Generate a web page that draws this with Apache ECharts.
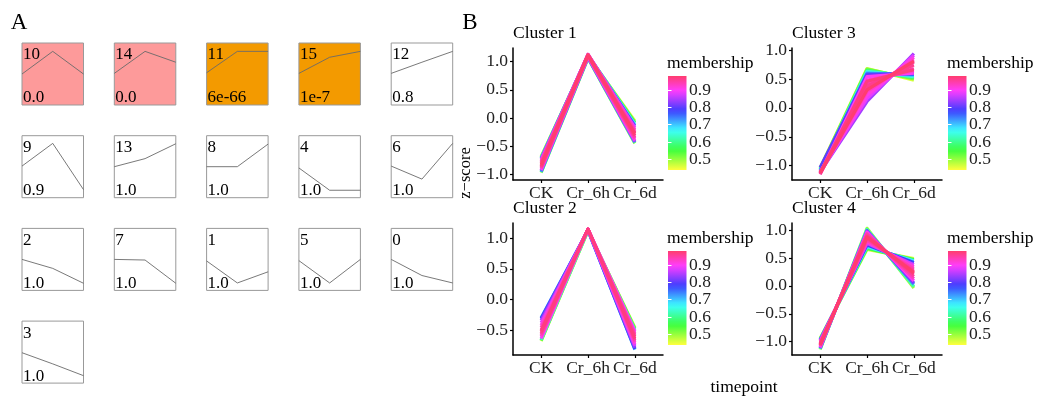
<!DOCTYPE html>
<html><head><meta charset="utf-8">
<script src="https://cdn.jsdelivr.net/npm/echarts@6/dist/echarts.min.js"></script>
<style>html,body{margin:0;padding:0;background:#fff}#c{width:1037px;height:396px}</style>
</head><body><div id="c"></div>
<script>
// ---------------- DATA ----------------
const timepoints = ['CK', 'Cr_6h', 'Cr_6d'];

// Panel A: small cluster profile tiles (reading order), values as fraction of tile height
const tileClusterIds = [10, 14, 11, 15, 12, 9, 13, 8, 4, 6, 2, 7, 1, 5, 0, 3];
const tilePValues = ['0.0', '0.0', '6e-66', '1e-7', '0.8', '0.9', '1.0', '1.0', '1.0', '1.0', '1.0', '1.0', '1.0', '1.0', '1.0', '1.0'];
const tileProfiles = [
  [0.50, 0.865, 0.50],
  [0.51, 0.865, 0.69],
  [0.52, 0.865, 0.865],
  [0.51, 0.77, 0.865],
  [0.51, 0.69, 0.865],
  [0.51, 0.876, 0.13],
  [0.50, 0.63, 0.87],
  [0.50, 0.50, 0.865],
  [0.48, 0.12, 0.12],
  [0.51, 0.30, 0.876],
  [0.50, 0.355, 0.115],
  [0.50, 0.49, 0.115],
  [0.475, 0.12, 0.30],
  [0.48, 0.12, 0.50],
  [0.50, 0.24, 0.12],
  [0.49, 0.31, 0.12]
];

// Panel B: gene lines per cluster: [membership, CK, Cr_6h, Cr_6d] (z-score)
const cluster1Lines = [
  [0.46, -0.68, 1.10, -0.05], [0.50, -0.97, 1.06, -0.45], [0.56, -0.70, 1.11, -0.08],
  [0.62, -0.96, 1.07, -0.44], [0.68, -0.71, 1.12, -0.11], [0.74, -0.95, 1.07, -0.43],
  [0.80, -0.72, 1.12, -0.14], [0.84, -0.93, 1.08, -0.42], [0.88, -0.74, 1.13, -0.17],
  [0.90, -0.92, 1.09, -0.40], [0.92, -0.76, 1.13, -0.20], [0.93, -0.90, 1.10, -0.37],
  [0.94, -0.78, 1.13, -0.23], [0.95, -0.88, 1.10, -0.34], [0.96, -0.80, 1.12, -0.26],
  [0.97, -0.86, 1.11, -0.31], [0.98, -0.83, 1.12, -0.28]
];
const cluster2Lines = [
  [0.47, -0.68, 1.12, -0.46], [0.55, -0.67, 1.13, -0.48], [0.63, -0.66, 1.13, -0.50],
  [0.72, -0.30, 1.13, -0.82], [0.78, -0.31, 1.13, -0.81], [0.83, -0.34, 1.14, -0.79],
  [0.87, -0.38, 1.14, -0.76], [0.89, -0.64, 1.15, -0.52], [0.91, -0.42, 1.14, -0.73],
  [0.92, -0.61, 1.15, -0.55], [0.93, -0.46, 1.15, -0.70], [0.94, -0.58, 1.15, -0.58],
  [0.95, -0.50, 1.15, -0.67], [0.96, -0.55, 1.15, -0.61], [0.97, -0.52, 1.15, -0.64]
];
const cluster3Lines = [
  [0.46, -1.04, 0.68, 0.48], [0.52, -1.05, 0.67, 0.50], [0.58, -1.06, 0.65, 0.52],
  [0.64, -1.07, 0.63, 0.54], [0.70, -1.08, 0.61, 0.56], [0.76, -1.09, 0.59, 0.58],
  [0.80, -1.03, 0.57, 0.60], [0.84, -1.11, 0.11, 0.94], [0.88, -1.10, 0.16, 0.91],
  [0.90, -1.13, 0.54, 0.60], [0.91, -1.12, 0.22, 0.87], [0.92, -1.14, 0.48, 0.64],
  [0.93, -1.11, 0.28, 0.83], [0.94, -1.15, 0.42, 0.68], [0.95, -1.12, 0.34, 0.79],
  [0.96, -1.14, 0.38, 0.74], [0.97, -1.13, 0.46, 0.66], [0.98, -1.12, 0.31, 0.81]
];
const cluster4Lines = [
  [0.46, -0.94, 0.65, 0.49], [0.50, -1.14, 1.03, -0.04], [0.56, -0.95, 0.67, 0.47],
  [0.62, -1.13, 1.01, -0.01], [0.68, -0.96, 0.70, 0.45], [0.74, -1.12, 0.99, 0.03],
  [0.78, -0.97, 0.73, 0.42], [0.82, -1.11, 0.98, 0.05], [0.87, -0.98, 0.76, 0.38],
  [0.90, -1.10, 0.96, 0.09], [0.92, -1.00, 0.79, 0.34], [0.93, -1.08, 0.94, 0.13],
  [0.94, -1.02, 0.82, 0.30], [0.95, -1.07, 0.92, 0.17], [0.96, -1.04, 0.85, 0.26],
  [0.97, -1.06, 0.89, 0.21], [0.98, -1.05, 0.87, 0.24]
];
const yTicksFull = [-1, -0.5, 0, 0.5, 1];
const yTicksCluster2 = [-0.5, 0, 0.5, 1];
const membershipTicks = [0.5, 0.6, 0.7, 0.8, 0.9];

// ---------------- STYLE / LAYOUT ----------------
const FONT = "'Liberation Serif','Times New Roman','DejaVu Serif',serif";
const FS_A = 17, FS_B = 17.5;
const tileFill = { 10: '#fd9a9a', 14: '#fd9a9a', 11: '#f39a00', 15: '#f39a00' };
const memMin = 0.44, memMax = 0.98;
function memColor(m) {
  const t = Math.max(0, Math.min(1, (m - memMin) / (memMax - memMin)));
  const h = 60 + t * 285;
  return 'hsl(' + h.toFixed(1) + ',100%,62%)';
}
const fmtNum = v => (v < 0 ? '\u2212' : '') + Math.abs(v).toFixed(1);

const grids = [], xAxes = [], yAxes = [], series = [], graphics = [];
const legendAxes = [];

// Panel A
const tileLeft0 = 22, tileTop0 = 43, tileStepX = 92.3, tileStepY = 92.7, tileW = 61.5, tileH = 62;
tileClusterIds.forEach((id, i) => {
  const col = i % 5, row = Math.floor(i / 5);
  const left = tileLeft0 + col * tileStepX, top = tileTop0 + row * tileStepY;
  const gi = grids.length, xi = xAxes.length, yi = yAxes.length;
  grids.push({ left, top, width: tileW, height: tileH, show: true, borderColor: '#999', borderWidth: 1, backgroundColor: tileFill[id] || '#fff' });
  xAxes.push({ gridIndex: gi, type: 'value', min: 0, max: 2, show: false });
  yAxes.push({ gridIndex: gi, type: 'value', min: 0, max: 1, show: false });
  series.push({ type: 'line', xAxisIndex: xi, yAxisIndex: yi, data: tileProfiles[i].map((v, k) => [k, v]), symbol: 'none', silent: true, lineStyle: { color: '#6a6a6a', width: 0.9 } });
  graphics.push({ type: 'text', x: left + 1, y: top + 12, style: { text: String(id), font: FS_A + 'px ' + FONT, fill: '#000', align: 'left', verticalAlign: 'middle' } });
  graphics.push({ type: 'text', x: left + 1, y: top + tileH - 7, style: { text: tilePValues[i], font: FS_A + 'px ' + FONT, fill: '#000', align: 'left', verticalAlign: 'middle' } });
});

// Panel B
const panels = [
  { title: 'Cluster 1', lines: cluster1Lines, left: 513, top: 48, yMin: -1.10, yMax: 1.243, ticks: yTicksFull, legendLeft: 668 },
  { title: 'Cluster 2', lines: cluster2Lines, left: 513, top: 223, yMin: -0.909, yMax: 1.25, ticks: yTicksCluster2, legendLeft: 668 },
  { title: 'Cluster 3', lines: cluster3Lines, left: 792, top: 48, yMin: -1.247, yMax: 1.035, ticks: yTicksFull, legendLeft: 948 },
  { title: 'Cluster 4', lines: cluster4Lines, left: 792, top: 223, yMin: -1.238, yMax: 1.125, ticks: yTicksFull, legendLeft: 948 }
];
const barW = 18.5;
const gradStops = [];
for (let k = 0; k <= 20; k++) {
  const off = k / 20;
  gradStops.push({ offset: off, color: memColor(memMax - off * (memMax - memMin)) });
}
const labelCommon = { fontFamily: FONT, fontSize: FS_B, color: '#222', hideOverlap: false, showMinLabel: true, showMaxLabel: true };
panels.forEach(p => {
  const gi = grids.length, xi = xAxes.length, yi = yAxes.length;
  grids.push({ left: p.left, top: p.top, width: 150, height: 132, show: false });
  xAxes.push({
    gridIndex: gi, type: 'value', min: -0.6, max: 2.6,
    axisLine: { show: true, onZero: false, lineStyle: { color: '#000', width: 1.5 } },
    axisTick: { show: true, customValues: [0, 1, 2], length: 3, lineStyle: { color: '#000', width: 1.2 } },
    axisLabel: Object.assign({ customValues: [0, 1, 2], formatter: v => timepoints[Math.round(v)], margin: 4 }, labelCommon),
    splitLine: { show: false }
  });
  yAxes.push({
    gridIndex: gi, type: 'value', min: p.yMin, max: p.yMax,
    axisLine: { show: true, onZero: false, lineStyle: { color: '#000', width: 1.5 } },
    axisTick: { show: true, customValues: p.ticks, length: 3, lineStyle: { color: '#000', width: 1.2 } },
    axisLabel: Object.assign({ customValues: p.ticks, formatter: fmtNum, margin: 5 }, labelCommon),
    splitLine: { show: false }
  });
  p.lines.slice().sort((a, b) => a[0] - b[0]).forEach(l => {
    series.push({
      type: 'line', xAxisIndex: xi, yAxisIndex: yi, symbol: 'none', silent: true,
      data: [[0, l[1]], [1, l[2]], [2, l[3]]],
      lineStyle: { color: memColor(l[0]), width: 3.2, join: 'round' }
    });
  });
  graphics.push({ type: 'text', x: p.left, y: p.top - 15, style: { text: p.title, font: FS_B + 'px ' + FONT, fill: '#000', align: 'left', verticalAlign: 'middle' } });
  graphics.push({ type: 'text', x: p.legendLeft - 1, y: p.top + 15, style: { text: 'membership', font: FS_B + 'px ' + FONT, fill: '#000', align: 'left', verticalAlign: 'middle' } });

  // colour bar legend
  const li = grids.length, lyi = yAxes.length;
  grids.push({ left: p.legendLeft, top: p.top + 28, width: barW, height: 94, show: true, borderWidth: 0,
    backgroundColor: new echarts.graphic.LinearGradient(0, 0, 0, 1, gradStops) });
  xAxes.push({ gridIndex: li, type: 'value', min: 0, max: 1, show: false });
  yAxes.push({
    gridIndex: li, type: 'value', min: memMin, max: memMax, position: 'right',
    axisLine: { show: false },
    axisTick: { show: true, inside: true, customValues: membershipTicks, length: 3.5, lineStyle: { color: '#fff', width: 1 } },
    axisLabel: { show: false },
    splitLine: { show: false }
  });
  yAxes.push({
    gridIndex: li, type: 'value', min: memMin, max: memMax, position: 'left',
    axisLine: { show: false },
    axisTick: { show: true, inside: true, customValues: membershipTicks, length: 3.5, lineStyle: { color: '#fff', width: 1 } },
    axisLabel: { show: false },
    splitLine: { show: false }
  });
  legendAxes.push({ yAxisIndex: lyi, labelX: p.legendLeft + barW + 2.5 });
});

graphics.push({ type: 'text', x: 19, y: 23, style: { text: 'A', font: '23px ' + FONT, fill: '#000', align: 'center', verticalAlign: 'middle' } });
graphics.push({ type: 'text', x: 470, y: 23, style: { text: 'B', font: '23px ' + FONT, fill: '#000', align: 'center', verticalAlign: 'middle' } });
graphics.push({ type: 'text', x: 466, y: 173, rotation: Math.PI / 2, style: { text: 'z\u2212score', font: '16.5px ' + FONT, fill: '#000', align: 'center', verticalAlign: 'middle' } });
graphics.push({ type: 'text', x: 744, y: 387, style: { text: 'timepoint', font: FS_B + 'px ' + FONT, fill: '#000', align: 'center', verticalAlign: 'middle' } });

const chart = echarts.init(document.getElementById('c'), null, { renderer: 'canvas' });
chart.setOption({
  animation: false,
  backgroundColor: '#fff',
  grid: grids, xAxis: xAxes, yAxis: yAxes, series: series, graphic: graphics
});

// colour-bar tick labels placed through the legend axes' own scale
const legendLabels = [];
legendAxes.forEach(la => {
  membershipTicks.forEach(v => {
    const py = chart.convertToPixel({ yAxisIndex: la.yAxisIndex }, v);
    legendLabels.push({ type: 'text', x: la.labelX, y: py, style: { text: v.toFixed(1), font: FS_B + 'px ' + FONT, fill: '#222', align: 'left', verticalAlign: 'middle' } });
  });
});
chart.setOption({ graphic: graphics.concat(legendLabels) });
</script></body></html>
